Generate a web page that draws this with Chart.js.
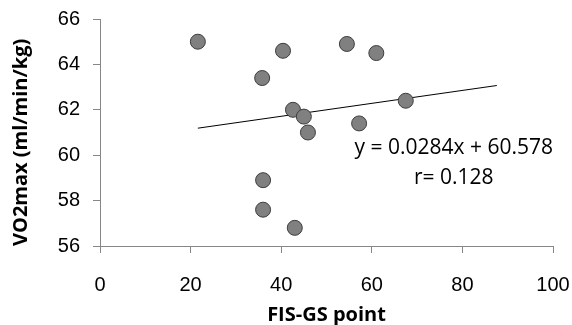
<!DOCTYPE html>
<html>
<head>
<meta charset="utf-8">
<script src="https://cdn.jsdelivr.net/npm/chart.js@4.4.1/dist/chart.umd.min.js"></script>
<style>
  html, body { margin: 0; padding: 0; background: #fff; }
  #wrap { width: 572px; height: 325px; }
</style>
</head>
<body>
<div id="wrap"><canvas id="myChart" width="572" height="325"></canvas></div>
<script>
// FIS-GS point vs VO2max, one point per subject
const fisPoints = [21.6, 40.4, 35.8, 54.5, 61.0, 67.5, 42.6, 45.0, 45.9, 57.2, 36.0, 36.0, 43.0];
const vo2Values = [65.0, 64.6, 63.4, 64.9, 64.5, 62.4, 62.0, 61.7, 61.0, 61.4, 58.9, 57.6, 56.8];

// trend line ends
const trendX = [21.6, 87.6];
const trendY = [61.19, 63.07];

const xTicks = [0, 20, 40, 60, 80, 100];
const yTicks = [56, 58, 60, 62, 64, 66];

const eqText = 'y = 0.0284x + 60.578';
const rText = 'r= 0.128';

const scatterData = fisPoints.map((x, i) => ({ x: x, y: vo2Values[i] }));
const trendData = trendX.map((x, i) => ({ x: x, y: trendY[i] }));

// equation text, placed in data coords
const labelPlugin = {
    id: 'eqLabel',
    afterDatasetsDraw(chart) {
        const c = chart.ctx;
        const xs = chart.scales.x, ys = chart.scales.y;
        c.save();
        c.fillStyle = '#000';
        c.font = '21px "Open Sans"';
        c.textAlign = 'center';
        c.textBaseline = 'middle';
        c.fillText(eqText, xs.getPixelForValue(78.1), ys.getPixelForValue(60.3));
        c.fillText(rText, xs.getPixelForValue(78.1), ys.getPixelForValue(59.0));
        c.restore();
    }
};

const ctx = document.getElementById('myChart').getContext('2d');
const myChart = new Chart(ctx, {
    type: 'scatter',
    data: {
        datasets: [{
            label: 'VO2max',
            data: scatterData,
            backgroundColor: '#808080',
            borderColor: '#3c3c3c',
            borderWidth: 1,
            pointRadius: 7.5,
            order: 1
        }, {
            type: 'line',
            label: 'trend',
            data: trendData,
            borderColor: '#000',
            borderWidth: 1,
            pointRadius: 0,
            fill: false,
            order: 2
        }]
    },
    options: {
        responsive: false,
        animation: false,
        layout: {
            padding: { top: 19, right: 19, bottom: 0, left: 0 }
        },
        scales: {
            x: {
                type: 'linear',
                min: 0,
                max: 100,
                afterFit: function(scale) {
                    scale.height = 79;
                    scale.paddingLeft = 0;
                    scale.paddingRight = 0;
                },
                afterBuildTicks: function(scale) { scale.ticks = xTicks.map(v => ({ value: v })); },
                grid: {
                    display: true,
                    drawOnChartArea: false,
                    drawTicks: true,
                    tickLength: 7,
                    color: '#868686'
                },
                border: { color: '#868686', width: 1 },
                ticks: {
                    color: '#000',
                    padding: 20,
                    maxRotation: 0,
                    font: { family: 'Liberation Sans', size: 20 }
                },
                title: {
                    display: true,
                    text: 'FIS-GS point',
                    color: '#000',
                    padding: { top: 0, bottom: 0 },
                    font: { family: 'Open Sans', size: 20, weight: 'bold', lineHeight: 1 }
                }
            },
            y: {
                min: 56,
                max: 66,
                afterFit: function(scale) {
                    scale.width = 100;
                    scale.paddingTop = 0;
                    scale.paddingBottom = 0;
                },
                afterBuildTicks: function(scale) { scale.ticks = yTicks.map(v => ({ value: v })); },
                grid: {
                    display: true,
                    drawOnChartArea: false,
                    drawTicks: true,
                    tickLength: 7,
                    color: '#868686'
                },
                border: { color: '#868686', width: 1 },
                ticks: {
                    color: '#000',
                    padding: 13,
                    font: { family: 'Liberation Sans', size: 20 }
                },
                title: {
                    display: true,
                    text: 'VO2max (ml/min/kg)',
                    color: '#000',
                    align: 'start',
                    padding: { top: 9, bottom: 0 },
                    font: { family: 'Open Sans', size: 20, weight: 'bold' }
                }
            }
        },
        plugins: {
            legend: { display: false },
            tooltip: { enabled: false }
        }
    },
    plugins: [labelPlugin]
});
</script>
</body>
</html>
